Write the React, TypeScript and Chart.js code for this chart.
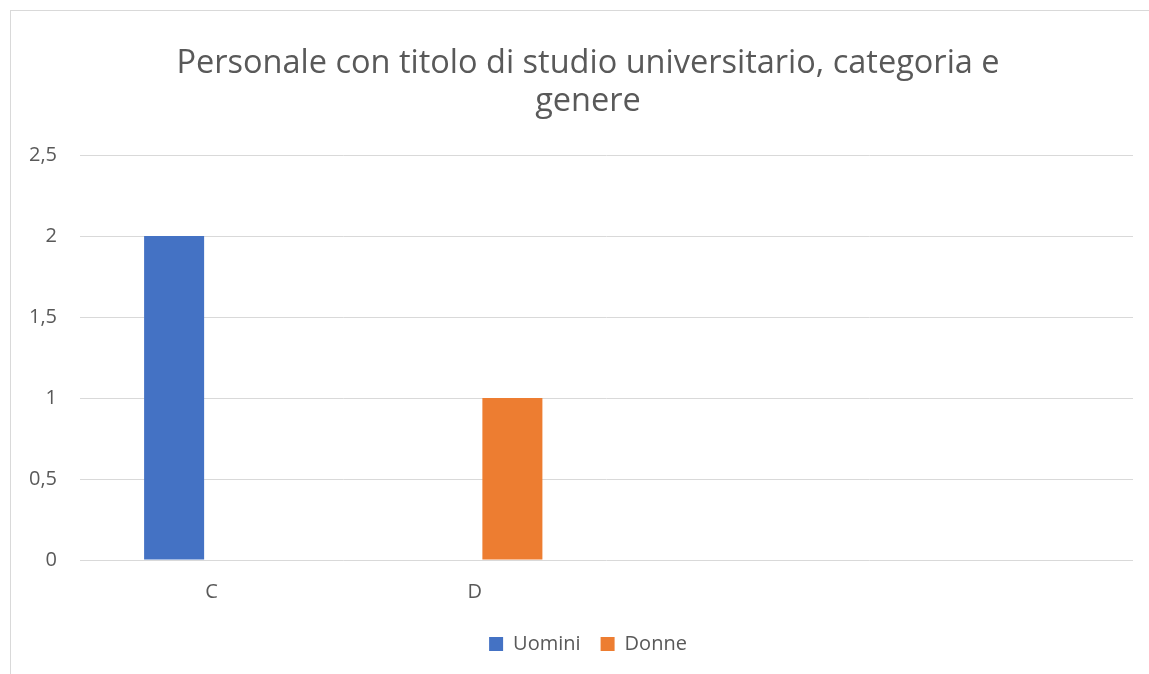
import React, { useEffect, useRef } from "react";
import { Chart, registerables } from "chart.js";

Chart.register(...registerables);

const titleLines = ["Personale con titolo di studio universitario, categoria e", "genere"];
const categories = ["C", "D", "", ""];
const uomini: (number | null)[] = [2, null, null, null];
const donne: (number | null)[] = [null, 1, null, null];
const yTicks = [0, 0.5, 1, 1.5, 2, 2.5];

const FONT = "'Open Sans', sans-serif";
const TEXT = "#595959";

export default function App() {
  const ref = useRef<HTMLCanvasElement | null>(null);

  useEffect(() => {
    document.body.style.margin = "0";
    document.body.style.overflow = "hidden";
    if (!ref.current) return;
    const chart = new Chart(ref.current, {
      type: "bar",
      data: {
        labels: categories,
        datasets: [
          { label: "Uomini", data: uomini, backgroundColor: "#4472C4", categoryPercentage: 0.57, barPercentage: 0.8 },
          { label: "Donne", data: donne, backgroundColor: "#ED7D31", categoryPercentage: 0.57, barPercentage: 0.8 },
        ],
      },
      options: {
        animation: false,
        responsive: false,
        devicePixelRatio: 1,
        layout: { padding: { left: 0, right: 0, top: 0, bottom: 10 } },
        plugins: {
          title: {
            display: true,
            text: titleLines,
            color: TEXT,
            font: { family: FONT, size: 32.5, weight: "normal", lineHeight: 38 / 32.5 },
            padding: { top: 34, bottom: 34 },
          },
          legend: {
            position: "bottom",
            labels: {
              color: TEXT,
              font: { family: FONT, size: 20 },
              boxWidth: 14,
              boxHeight: 14,
              padding: 20,
            },
          },
          tooltip: { enabled: false },
        },
        scales: {
          x: {
            grid: { display: false, drawTicks: false },
            border: { display: false },
            afterFit: (s: any) => { s.height = 54; },
            ticks: { color: TEXT, font: { family: FONT, size: 20 }, padding: 20 },
          },
          y: {
            min: 0,
            max: 2.5,
            afterFit: (s: any) => { s.width = 69; },
            afterBuildTicks: (s: any) => { s.ticks = yTicks.map((v) => ({ value: v })); },
            grid: { color: "#d9d9d9", drawTicks: false, lineWidth: 1 },
            border: { display: false },
            ticks: {
              color: TEXT,
              font: { family: FONT, size: 20 },
              padding: 23,
              callback: (v: any) => String(v).replace(".", ","),
            },
          },
          yRight: {
            position: "right",
            min: 0,
            max: 2.5,
            afterFit: (s: any) => { s.width = 32; },
            grid: { display: false, drawTicks: false },
            border: { display: false },
            ticks: { display: false },
          },
        },
      },
    });
    return () => chart.destroy();
  }, []);

  return (
    <div
      style={{
        position: "absolute",
        left: 10,
        top: 10,
        width: 1139,
        height: 664,
        overflow: "hidden",
        borderTop: "1px solid #d9d9d9",
        borderLeft: "1px solid #d9d9d9",
        boxSizing: "border-box",
        background: "#fff",
      }}
    >
      <canvas ref={ref} width={1154} height={663} style={{ display: "block" }} />
    </div>
  );
}
